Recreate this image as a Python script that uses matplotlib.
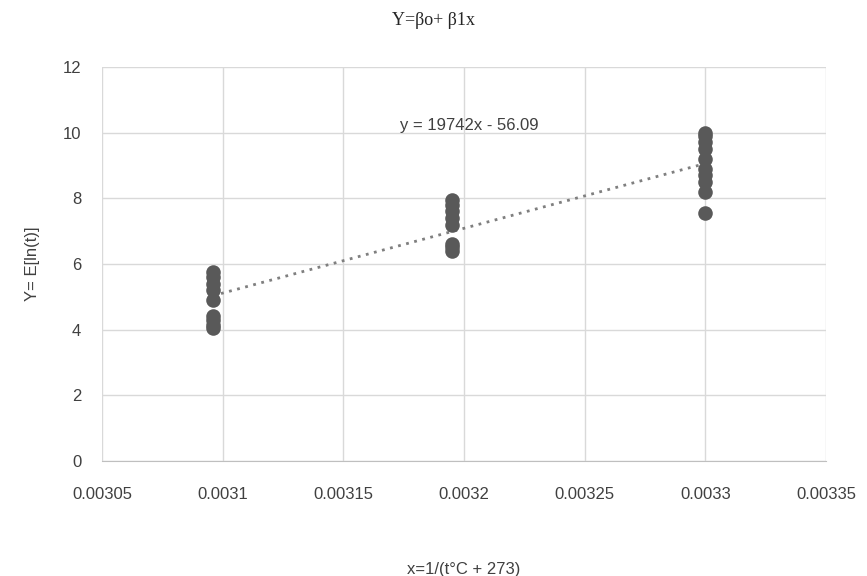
import matplotlib
matplotlib.use('Agg')
import matplotlib.pyplot as plt
import numpy as np

# data
x_groups = [0.003096, 0.003195, 0.0033]
y_groups = [
    [5.75, 5.6, 5.4, 5.2, 4.9, 4.4, 4.3, 4.15, 4.05],
    [7.95, 7.8, 7.6, 7.4, 7.2, 6.6, 6.5, 6.4],
    [10.0, 9.9, 9.7, 9.5, 9.2, 8.9, 8.7, 8.5, 8.2, 7.55],
]
slope = 19742
intercept = -56.09
x_ticks = [0.00305, 0.0031, 0.00315, 0.0032, 0.00325, 0.0033, 0.00335]
x_tick_labels = ['0.00305', '0.0031', '0.00315', '0.0032', '0.00325', '0.0033', '0.00335']
y_ticks = [0, 2, 4, 6, 8, 10, 12]

plt.rcParams['font.family'] = ['Liberation Sans', 'DejaVu Sans']

fig = plt.figure(figsize=(8.67, 5.76), dpi=100)
ax = fig.add_axes([0.1176, 0.2, 0.9527 - 0.1176, 0.8837 - 0.2])

xs = []
ys = []
for xv, yv in zip(x_groups, y_groups):
    xs += [xv] * len(yv)
    ys += yv
ax.scatter(xs, ys, s=110, color='#595959', zorder=3, linewidths=0)

xl = np.array([min(x_groups), max(x_groups)])
ax.plot(xl, slope * xl + intercept, linestyle=(0, (1, 2)), color='#7f7f7f', lw=2, zorder=2)

ax.text(0.0031736, 10.0, 'y = 19742x - 56.09', fontsize=12, color='#404040', ha='left', va='bottom')

ax.set_xlim(0.00305, 0.00335)
ax.set_ylim(0, 12)
ax.set_xticks(x_ticks)
ax.set_xticklabels(x_tick_labels)
ax.set_yticks(y_ticks)
ax.grid(True, color='#d9d9d9', lw=1)
ax.set_axisbelow(True)
for s in ['top', 'right', 'left']:
    ax.spines[s].set_visible(False)
ax.spines['bottom'].set_color('#bfbfbf')
ax.tick_params(length=0, labelsize=12, colors='#404040')
ax.tick_params(axis='x', pad=19)
ax.tick_params(axis='y', pad=15)

ax.set_xlabel('x=1/(t\u00b0C + 273)', fontsize=12, color='#404040', labelpad=43)
ax.set_ylabel('Y= E[ln(t)]', fontsize=12, color='#404040', labelpad=16)
fig.text(0.5, 0.965, 'Y=\u03b2o+ \u03b21x', family=['Liberation Serif', 'DejaVu Serif'],
         fontsize=13, ha='center', va='center', color='#262626')

plt.savefig('out.png', dpi=100)
plt.close()
